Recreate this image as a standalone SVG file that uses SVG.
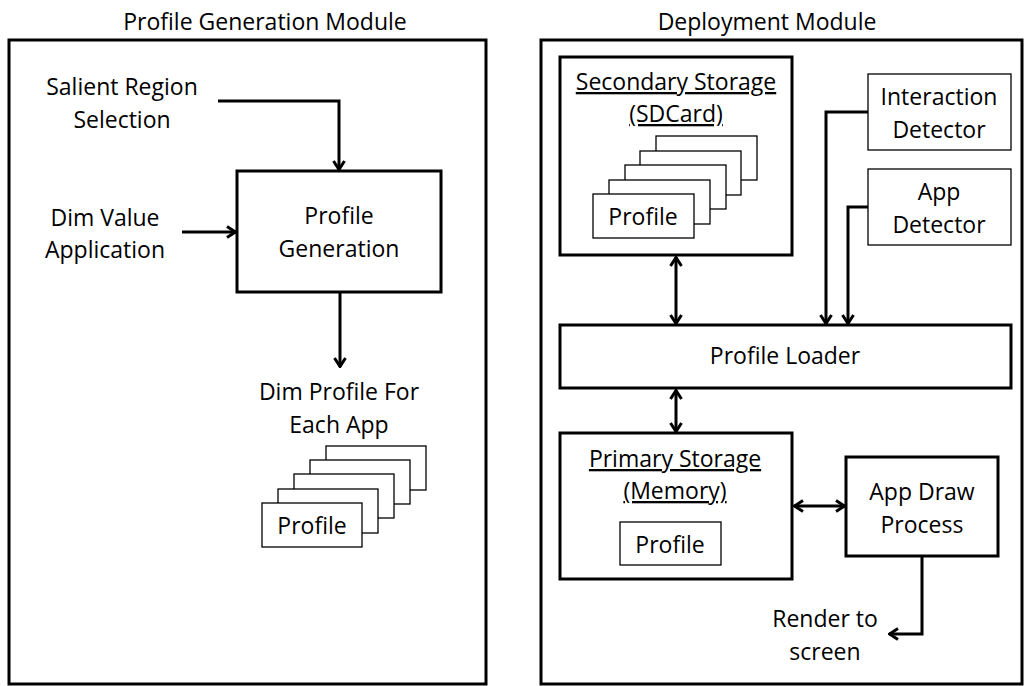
<svg xmlns="http://www.w3.org/2000/svg" width="1032" height="686" viewBox="0 0 1032 686">
<defs>
<style>
text{font-family:"Open Sans","Liberation Sans",sans-serif;font-size:23px;fill:#000;text-anchor:middle}
.thick{fill:#fff;stroke:#000;stroke-width:3}
.thin{fill:#fff;stroke:#000;stroke-width:1.3}
.conn{fill:none;stroke:#000;stroke-width:3}
.u{text-decoration:underline}
</style>
<marker id="ah" viewBox="0 0 12 14" refX="11" refY="7" markerWidth="12" markerHeight="14" markerUnits="userSpaceOnUse" orient="auto-start-reverse">
<path d="M2,1.5 L10.5,7 L2,12.5" fill="none" stroke="#000" stroke-width="3"/>
</marker>
</defs>
<rect width="1032" height="686" fill="#fff"/>

<g id="module-profile-generation">
<text x="265" y="30">Profile Generation Module</text>
<rect class="thick" x="9" y="40" width="477" height="644"/>
</g>
<g id="module-deployment">
<text x="767" y="30">Deployment Module</text>
<rect class="thick" x="541" y="40" width="481" height="644"/>
</g>

<g id="salient-region">
<text x="122" y="95">Salient Region</text>
<text x="122" y="128">Selection</text>
</g>
<g id="dim-value">
<text x="105" y="226">Dim Value</text>
<text x="105" y="258">Application</text>
</g>
<g id="profile-generation">
<rect class="thick" x="237" y="171" width="204" height="121"/>
<text x="339" y="224">Profile</text>
<text x="339" y="257">Generation</text>
</g>
<g id="dim-profile">
<text x="339" y="400">Dim Profile For</text>
<text x="339" y="433">Each App</text>
<rect class="thin" x="326" y="446" width="100" height="44"/>
<rect class="thin" x="310" y="460" width="100" height="44"/>
<rect class="thin" x="294" y="474" width="100" height="44"/>
<rect class="thin" x="278" y="489" width="100" height="44"/>
<rect class="thin" x="262" y="503" width="100" height="44"/>
<text x="312" y="534">Profile</text>
</g>

<g id="secondary-storage">
<rect class="thick" x="560" y="57" width="232" height="198"/>
<text class="u" x="676" y="90">Secondary Storage</text>
<text class="u" x="676" y="122">(SDCard)</text>
<rect class="thin" x="656" y="136" width="101" height="44"/>
<rect class="thin" x="640" y="151" width="101" height="44"/>
<rect class="thin" x="625" y="165" width="101" height="44"/>
<rect class="thin" x="609" y="180" width="101" height="44"/>
<rect class="thin" x="593" y="194" width="101" height="44"/>
<text x="643" y="225">Profile</text>
</g>
<g id="interaction-detector">
<rect class="thin" x="868" y="74" width="143" height="76"/>
<text x="939" y="105">Interaction</text>
<text x="939" y="138">Detector</text>
</g>
<g id="app-detector">
<rect class="thin" x="868" y="169" width="143" height="76"/>
<text x="939" y="200">App</text>
<text x="939" y="233">Detector</text>
</g>
<g id="profile-loader">
<rect class="thick" x="560" y="325" width="451" height="63"/>
<text x="785" y="364">Profile Loader</text>
</g>
<g id="primary-storage">
<rect class="thick" x="560" y="433" width="232" height="146"/>
<text class="u" x="675" y="467">Primary Storage</text>
<text class="u" x="675" y="499">(Memory)</text>
<rect class="thin" x="620" y="522" width="101" height="43"/>
<text x="670" y="553">Profile</text>
</g>
<g id="app-draw-process">
<rect class="thick" x="846" y="457" width="152" height="99"/>
<text x="922" y="500">App Draw</text>
<text x="922" y="533">Process</text>
</g>
<g id="render-to-screen">
<text x="825" y="627">Render to</text>
<text x="825" y="660">screen</text>
</g>

<g id="connectors">
<path class="conn" d="M218,101 H339 V170" marker-end="url(#ah)"/>
<path class="conn" d="M182,232 H236" marker-end="url(#ah)"/>
<path class="conn" d="M340,292 V367" marker-end="url(#ah)"/>
<path class="conn" d="M676,257 V324" marker-start="url(#ah)" marker-end="url(#ah)"/>
<path class="conn" d="M868,112 H826 V324" marker-end="url(#ah)"/>
<path class="conn" d="M868,207 H848 V324" marker-end="url(#ah)"/>
<path class="conn" d="M676,390 V432" marker-start="url(#ah)" marker-end="url(#ah)"/>
<path class="conn" d="M794,506 H845" marker-start="url(#ah)" marker-end="url(#ah)"/>
<path class="conn" d="M922,556 V634 H889" marker-end="url(#ah)"/>
</g>
</svg>
